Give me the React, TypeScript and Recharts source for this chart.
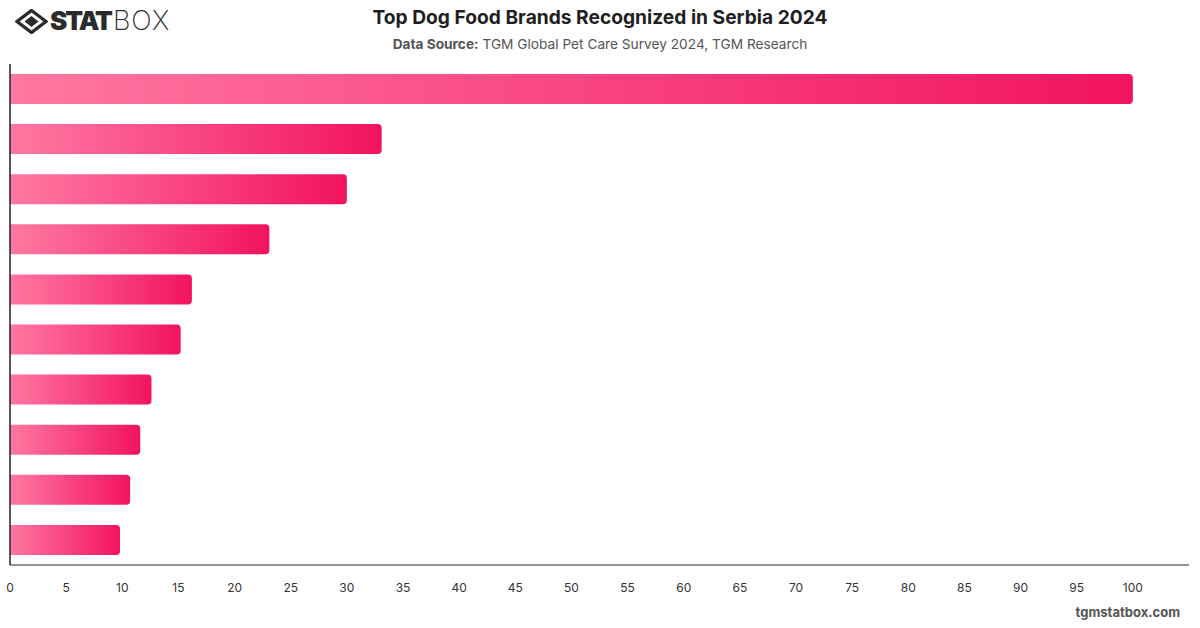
import React from 'react';
import { BarChart, Bar, XAxis, YAxis } from 'recharts';

// brand recognition, % of dog owners (names are not shown on the axis)
const brands = [
  'Brand A',
  'Brand B',
  'Brand C',
  'Brand D',
  'Brand E',
  'Brand F',
  'Brand G',
  'Brand H',
  'Brand I',
  'Brand J',
];
const recognition = [100, 33.1, 30, 23.1, 16.2, 15.2, 12.6, 11.6, 10.7, 9.8];
const xTicks = [0, 5, 10, 15, 20, 25, 30, 35, 40, 45, 50, 55, 60, 65, 70, 75, 80, 85, 90, 95, 100];

const FONT = 'Inter, "Helvetica Neue", Arial, sans-serif';

function Logo() {
  return (
    <div style={{ position: 'absolute', left: 15, top: 8, display: 'flex', alignItems: 'center' }}>
      <svg width={33} height={25} viewBox="0 0 33 25">
        <path d="M16.5 1.5 L31 12.5 L16.5 23.5 L2 12.5 Z" fill="none" stroke="#2b2b2b" strokeWidth={3.4} />
        <path d="M16.5 7 L23.5 12.5 L16.5 18 L9.5 12.5 Z" fill="#2b2b2b" />
      </svg>
      <span
        style={{
          fontFamily: FONT,
          fontSize: 26,
          fontWeight: 900,
          color: '#2b2b2b',
          letterSpacing: -2,
          marginLeft: 2,
          lineHeight: '26px',
        }}
      >
        STAT
      </span>
      <span
        style={{
          fontFamily: FONT,
          fontSize: 27,
          fontWeight: 200,
          color: '#2b2b2b',
          letterSpacing: 1,
          marginLeft: 2,
          lineHeight: '26px',
        }}
      >
        BOX
      </span>
    </div>
  );
}

export default function App() {
  const data = brands.map((name, i) => ({ name, value: recognition[i] }));

  return (
    <div
      style={{
        position: 'absolute',
        left: 0,
        top: 0,
        width: 1200,
        height: 628,
        background: '#fff',
        fontFamily: FONT,
      }}
    >
      <Logo />
      <div
        style={{
          position: 'absolute',
          top: 5,
          left: 0,
          width: 1200,
          textAlign: 'center',
          fontSize: 19.2,
          fontWeight: 700,
          color: '#1f1f1f',
        }}
      >
        Top Dog Food Brands Recognized in Serbia 2024
      </div>
      <div
        style={{
          position: 'absolute',
          top: 36,
          left: 0,
          width: 1200,
          textAlign: 'center',
          fontSize: 13.7,
          color: '#555',
        }}
      >
        <span style={{ fontWeight: 700 }}>Data Source:</span> TGM Global Pet Care Survey 2024, TGM Research
      </div>

      <BarChart
        width={1200}
        height={628}
        data={data}
        layout="vertical"
        margin={{ top: 64, right: 11, bottom: 23, left: 9 }}
        barCategoryGap={20}
      >
        <defs>
          <linearGradient id="barFill" x1="0" y1="0" x2="1" y2="0">
            <stop offset="0%" stopColor="#ff78a2" />
            <stop offset="100%" stopColor="#f2135f" />
          </linearGradient>
        </defs>
        <XAxis
          type="number"
          domain={[0, 105]}
          ticks={xTicks}
          interval={0}
          tickLine={false}
          axisLine={{ stroke: '#222' }}
          tickMargin={12}
          height={40}
          tick={{ fill: '#333', fontSize: 12, fontFamily: FONT }}
        />
        <YAxis
          type="category"
          dataKey="name"
          width={1}
          tick={false}
          tickLine={false}
          axisLine={{ stroke: '#222', strokeWidth: 1.5 }}
        />
        <Bar
          dataKey="value"
          fill="url(#barFill)"
          barSize={30}
          radius={[0, 4, 4, 0]}
          isAnimationActive={false}
        />
      </BarChart>

      <div
        style={{
          position: 'absolute',
          right: 20,
          top: 604,
          fontSize: 13,
          fontWeight: 700,
          color: '#555',
        }}
      >
        tgmstatbox.com
      </div>
    </div>
  );
}
